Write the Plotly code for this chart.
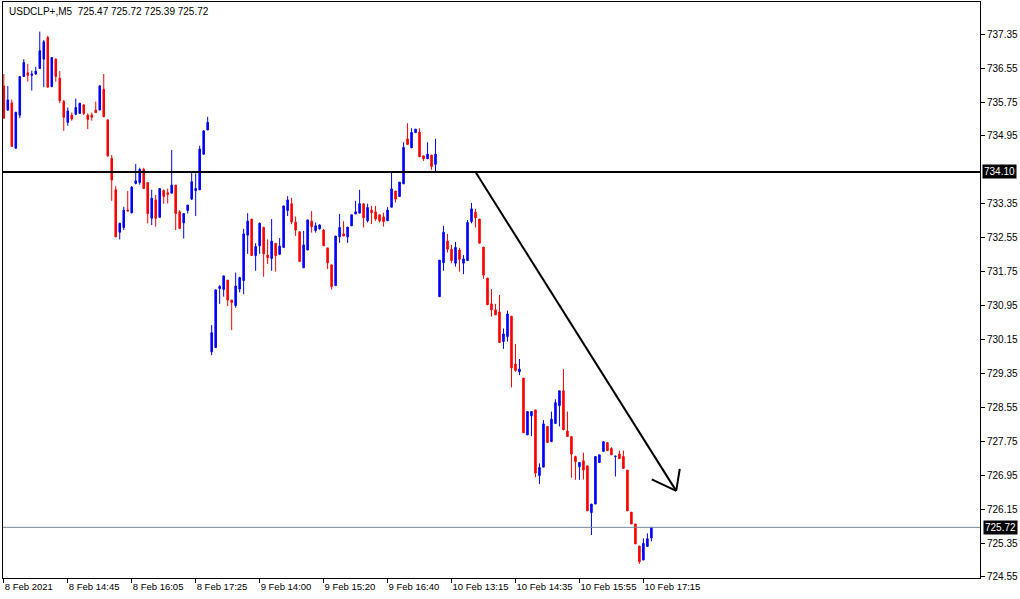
import plotly.graph_objects as go

# ---- data (USDCLP+, M5) ----
opens = [
 736.13,735.56,735.73,734.66,735.44,736.35,736.44,736.38,736.41,736.54,
 736.76,737.27,736.11,736.76,736.31,735.76,735.27,735.44,735.46,735.48,
 735.68,735.44,735.44,735.56,735.56,736.05,735.33,734.42,733.68,732.68,
 732.79,733.20,733.14,733.83,733.85,734.16,733.85,733.01,733.44,733.03,
 733.66,733.61,733.60,733.79,733.16,732.90,733.19,733.46,733.66,733.68,
 734.52,735.09,
 729.86,729.96,731.35,731.33,731.55,731.08,730.95,731.34,731.54,732.61,
 732.99,732.13,732.36,732.79,732.14,732.06,732.42,732.16,732.32,733.19,
 733.35,732.92,732.69,731.84,732.26,732.94,732.72,732.76,732.73,732.31,
 731.91,731.42,732.57,732.64,732.57,732.83,733.11,733.13,733.35,732.95,
 733.20,733.16,733.09,733.04,732.95,733.27,733.65,733.52,733.82,734.88,
 734.67,735.03,735.04,734.48,734.41,734.50,734.28,
 731.16,731.96,732.47,732.28,731.95,732.26,731.95,732.01,732.93,733.15,
 732.99,732.33,731.60,730.99,730.85,730.80,730.10,730.22,730.70,729.57,
 729.39,729.24,727.90,728.35,728.49,726.94,727.14,728.10,727.74,728.17,
 728.59,728.94,727.99,727.86,727.39,727.15,727.29,727.17,726.07,726.27,
 727.25,727.51,727.72,727.58,727.39,727.45,727.39,727.07,726.08,725.80,
 725.28,724.95,725.27,725.47]
highs = [
 736.41,736.13,735.81,735.51,736.35,736.76,736.65,736.49,736.58,737.41,
 737.21,737.31,736.80,736.78,736.48,735.80,735.62,735.50,735.83,735.73,
 735.70,735.48,735.50,735.76,736.15,736.41,735.33,734.50,733.77,732.90,
 733.28,733.65,733.77,734.29,734.20,734.20,733.85,733.68,733.56,733.71,
 733.69,733.71,734.62,733.79,733.20,733.12,733.32,734.11,734.07,734.72,
 735.07,735.40,
 730.49,731.32,731.43,731.65,731.55,731.08,731.73,731.63,732.76,733.13,
 732.99,732.42,732.91,732.81,732.51,732.99,732.42,732.54,733.30,733.53,
 733.49,733.05,732.69,732.71,732.97,733.18,732.91,732.87,732.76,732.31,
 731.91,732.59,733.11,732.94,732.80,733.09,733.42,733.68,733.35,733.35,
 733.30,733.30,733.09,733.14,733.27,734.08,733.65,733.86,734.80,735.25,
 735.13,735.11,735.13,734.48,734.80,734.50,734.88,
 732.02,732.83,732.64,732.38,732.45,732.31,732.14,732.97,733.37,733.23,
 732.99,732.33,731.60,731.34,730.99,731.20,730.41,730.83,730.70,730.04,
 729.69,729.24,728.45,728.45,728.49,727.23,728.25,728.10,728.45,728.74,
 728.94,729.45,728.45,727.86,727.41,727.25,727.48,727.17,726.27,727.39,
 727.43,727.74,727.72,727.61,727.40,727.53,727.53,727.07,726.08,725.80,
 725.28,725.46,725.58,725.72]
lows = [
 735.35,735.54,734.70,734.66,735.37,736.35,736.23,736.02,736.39,736.54,
 736.10,736.10,736.11,736.23,735.72,735.07,735.19,735.31,735.44,735.47,
 735.44,735.11,735.31,735.50,735.56,735.40,734.46,733.42,732.57,732.51,
 732.73,733.18,733.12,733.81,733.80,733.71,732.89,732.85,732.81,733.03,
 733.35,733.36,733.60,732.73,732.77,732.53,733.12,733.44,733.06,733.68,
 734.50,735.09,
 729.78,729.96,730.99,731.16,730.94,730.37,730.90,731.26,731.22,732.17,
 732.13,731.77,732.17,731.63,731.93,731.77,731.75,732.14,732.32,733.06,
 732.87,732.59,731.99,731.84,732.26,732.67,732.67,732.74,732.36,731.81,
 731.33,731.42,732.43,732.59,732.43,732.83,733.11,733.13,732.79,732.91,
 732.87,732.95,732.91,732.81,732.95,733.27,733.38,733.52,733.82,734.75,
 734.67,735.03,734.46,734.36,734.41,734.15,734.12,
 731.16,731.77,732.20,731.95,731.87,731.75,731.69,732.01,732.89,732.79,
 732.42,731.58,730.97,730.69,730.73,730.08,729.93,730.10,729.02,729.39,
 729.31,727.95,727.90,727.87,726.90,726.74,727.14,727.72,727.74,728.17,
 728.10,728.02,727.86,726.89,726.84,726.84,726.85,726.11,725.54,726.27,
 727.25,727.51,727.53,727.43,726.92,727.34,727.11,726.11,725.80,725.33,
 724.86,724.95,725.27,725.39]
closes = [
 735.37,735.80,734.70,735.51,736.35,736.68,736.38,736.41,736.48,736.96,
 737.17,736.10,736.80,736.35,735.78,735.39,735.54,735.35,735.62,735.72,
 735.48,735.34,735.39,735.50,736.13,735.40,734.48,733.91,732.57,732.89,
 733.20,733.18,733.74,733.89,734.16,733.71,733.12,733.48,733.01,733.71,
 733.52,733.57,733.79,733.12,732.77,733.12,733.32,733.87,733.71,734.64,
 735.07,735.27,
 730.31,731.32,731.40,731.65,731.08,731.02,731.41,731.61,732.64,732.94,
 732.13,732.34,732.89,732.17,732.08,732.47,732.13,732.35,733.30,733.44,
 732.92,732.73,731.99,732.38,732.97,732.81,732.83,732.85,732.36,731.96,
 731.40,732.59,732.79,732.59,732.80,733.09,733.16,733.35,733.02,733.26,
 733.14,732.99,732.95,732.93,733.20,733.70,733.46,733.86,734.68,734.75,
 735.03,735.11,734.46,734.41,734.52,734.23,734.52,
 732.02,732.68,732.28,732.01,732.32,732.04,732.05,732.91,733.23,733.02,
 732.42,731.67,730.97,730.85,730.73,730.08,730.28,730.75,729.48,729.42,
 729.45,727.95,728.45,728.45,727.00,727.13,728.16,727.72,728.27,728.66,
 728.94,728.02,727.86,727.45,727.27,727.25,727.07,726.11,726.27,727.39,
 727.43,727.74,727.53,727.43,727.40,727.34,727.11,726.11,725.80,725.33,
 724.91,725.34,725.45,725.72]

bar_index = list(range(len(opens)))

x_tick_index = [0, 16, 32, 48, 64, 80, 96, 112, 128, 144, 160]
x_tick_text = ["8 Feb 2021", "8 Feb 14:45", "8 Feb 16:05", "8 Feb 17:25",
               "9 Feb 14:00", "9 Feb 15:20", "9 Feb 16:40", "10 Feb 13:15",
               "10 Feb 14:35", "10 Feb 15:55", "10 Feb 17:15"]

y_tick_vals = [724.55, 725.35, 726.15, 726.95, 727.75, 728.55, 729.35, 730.15,
               730.95, 731.75, 732.55, 733.35, 734.95, 735.75, 736.55, 737.35]

level_price = 734.10
last_price = 725.72
symbol_title = "USDCLP+,M5  725.47 725.72 725.39 725.72"

# trend arrow (drawn object)
trend_x = [118.0, 168.2]
trend_y = [734.10, 726.58]
head_left = [162.1, 726.85]
head_right = [169.1, 727.10]

FONT = "Liberation Sans, Arial, sans-serif"

fig = go.Figure()
fig.add_trace(go.Candlestick(
    x=bar_index, open=opens, high=highs, low=lows, close=closes,
    increasing=dict(line=dict(color="#0000FF", width=1), fillcolor="#0000FF"),
    decreasing=dict(line=dict(color="#FF0000", width=1), fillcolor="#FF0000"),
    whiskerwidth=0, hoverinfo="skip", showlegend=False,
))

shapes = [
    dict(type="line", xref="paper", x0=0, x1=1, yref="y", y0=level_price, y1=level_price,
         line=dict(color="black", width=2)),
    dict(type="line", xref="paper", x0=0, x1=1, yref="y", y0=last_price, y1=last_price,
         line=dict(color="#778899", width=1)),
    dict(type="line", xref="x", yref="y", x0=trend_x[0], y0=trend_y[0], x1=trend_x[1], y1=trend_y[1],
         line=dict(color="black", width=2)),
    dict(type="line", xref="x", yref="y", x0=head_left[0], y0=head_left[1], x1=trend_x[1], y1=trend_y[1],
         line=dict(color="black", width=2)),
    dict(type="line", xref="x", yref="y", x0=trend_x[1], y0=trend_y[1], x1=head_right[0], y1=head_right[1],
         line=dict(color="black", width=2)),
]

annotations = [
    dict(text=symbol_title, xref="paper", yref="paper", x=0, y=1, xshift=4, yshift=-9,
         xanchor="left", yanchor="middle", showarrow=False,
         font=dict(family=FONT, size=10, color="black")),
    dict(text=f"{level_price:.2f}", xref="paper", yref="y", x=1, y=level_price, xshift=2,
         xanchor="left", yanchor="middle", showarrow=False, bgcolor="black", borderpad=1,
         font=dict(family=FONT, size=10, color="white")),
    dict(text=f"{last_price:.2f}", xref="paper", yref="y", x=1, y=last_price, xshift=3,
         xanchor="left", yanchor="middle", showarrow=False, bgcolor="black", borderpad=1,
         font=dict(family=FONT, size=10, color="white")),
]

fig.update_layout(
    width=1020, height=599,
    margin=dict(l=3, r=40, t=2, b=21),
    paper_bgcolor="white", plot_bgcolor="white",
    showlegend=False, boxgap=0.45,
    shapes=shapes, annotations=annotations,
    font=dict(family=FONT, size=10, color="black"),
    xaxis=dict(range=[-0.2, 244.2], rangeslider=dict(visible=False),
               showgrid=False, zeroline=False, showline=True, mirror=True,
               linecolor="black", linewidth=1, ticks="outside", ticklen=4,
               tickcolor="black", tickvals=x_tick_index, ticktext=x_tick_text,
               ticklabelposition="outside right", tickangle=0, automargin=False,
               tickfont=dict(family=FONT, size=9.5, color="black")),
    yaxis=dict(side="right", range=[724.526, 738.108], showgrid=False, zeroline=False,
               showline=True, mirror=True, linecolor="black", linewidth=1,
               ticks="outside", ticklen=4, tickcolor="black", automargin=False,
               tickvals=y_tick_vals, ticktext=[f"{v:.2f}" for v in y_tick_vals],
               tickfont=dict(family=FONT, size=10, color="black")),
)

fig.write_html("out.html", config={"displayModeBar": False},
               post_script="document.body.style.margin='0';document.body.style.overflow='hidden';")
